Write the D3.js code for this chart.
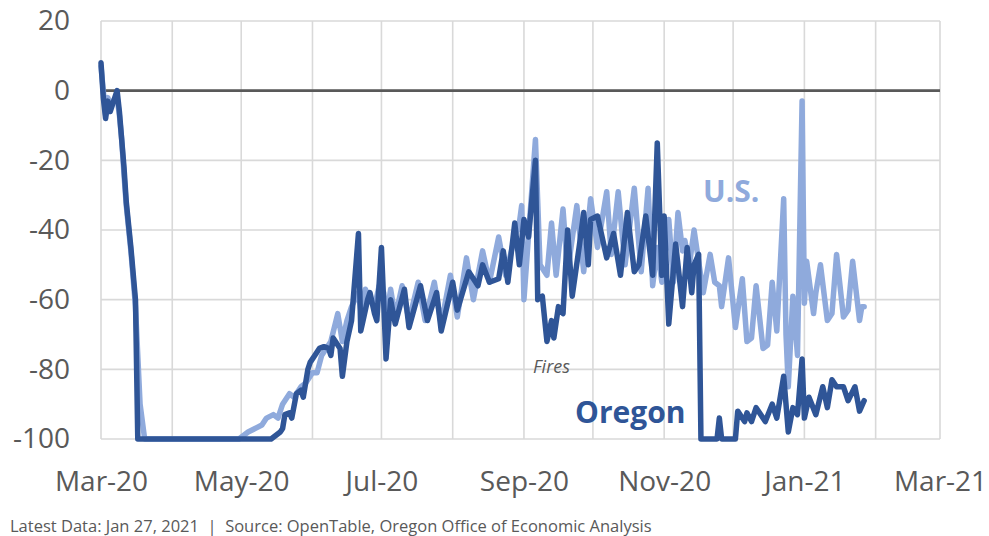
<!DOCTYPE html>
<html>
<head>
<meta charset="utf-8">
<script src="https://cdn.jsdelivr.net/npm/d3@7"></script>
<style>
  html, body { margin: 0; padding: 0; background: #fff; }
  svg { display: block; font-family: "Open Sans", sans-serif; }
</style>
</head>
<body>
<svg id="chart" width="989" height="536"></svg>
<script>
// ---- Data (days since Mar 1, 2020 and % change vs. 2019) ----
const startDate = new Date(2020, 2, 1);
const endDate = new Date(2021, 2, 1);

const oregonDay = [0,1,2,3,4,5,7,8,9,10,11,13,15,16,74,76,78,79,80,82,83,85,87,88,90,91,93,95,97,99,100,101,103,104,105,107,109,112,113,114,116,117,119,120,122,124,126,128,132,134,139,142,146,148,153,155,160,164,166,169,173,175,177,180,182,184,186,189,190,192,194,196,197,199,201,203,205,208,210,212,213,216,220,223,226,229,232,234,237,240,242,244,245,247,250,253,255,257,258,260,261,268,269,270,276,277,280,281,283,285,289,292,294,297,299,301,303,305,306,308,311,314,316,318,320,323,325,328,330,332];
const oregonValue = [8,-2,-8,-3,-6,-4,0,-6,-14,-22,-32,-45,-60,-100,-100,-99,-98,-97,-93,-92.5,-94,-87,-86,-88,-80,-78,-76,-74,-73.5,-74,-76,-71,-73,-74,-82,-72,-66,-41,-69,-66,-60,-58,-64,-66,-45,-77,-60,-67,-57,-68,-56,-66,-58,-69,-55,-63,-52,-56,-50,-55,-54,-46,-55,-38,-50,-37,-42,-20,-60,-59,-72,-66,-71,-62,-64,-40,-59,-45,-35,-50,-37,-36,-48,-41,-53,-35,-52,-50,-36,-53,-15,-53,-36,-67,-44,-62,-45,-58,-50,-47,-100,-100,-94,-100,-100,-92,-95,-92.5,-95,-91,-95,-90,-94,-82,-98,-91,-93,-77,-94,-88,-93,-85,-91,-83,-85,-85,-89,-85,-92,-89];

const usDay = [0,1,2,3,4,5,7,8,9,10,11,13,15,17,19,60,64,67,70,72,75,77,79,82,84,87,89,92,94,96,99,100,103,105,107,109,112,113,115,117,119,121,123,124,126,128,131,134,138,141,145,148,152,155,159,162,166,169,173,176,180,182,183,184,189,191,194,196,198,201,203,207,210,213,216,220,222,225,228,232,235,238,240,242,244,247,249,251,253,254,256,258,260,262,265,267,269,270,273,276,279,281,283,285,288,290,292,294,297,298,299,301,303,305,306,307,310,311,313,316,318,320,323,325,327,330,331,332];
const usValue = [7,0,-7,-2,-5,-3,-2,-7,-14,-24,-33,-46,-62,-90,-100,-100,-98,-97,-96,-94,-93,-94,-90,-87,-88,-85,-84,-81,-81,-76,-73,-72,-64,-72,-66,-62,-58,-63,-57,-60,-62,-56,-58,-66,-57,-65,-56,-66,-55,-66,-55,-67,-53,-65,-48,-60,-46,-55,-42,-53,-42,-38,-33,-60,-14,-50,-53,-38,-53,-34,-52,-33,-52,-31,-45,-29,-47,-29,-50,-28,-52,-28,-56,-45,-55,-37,-55,-35,-46,-43,-50,-40,-49,-58,-47,-55,-56,-62,-48,-68,-54,-72,-71,-56,-74,-73,-55,-69,-31,-70,-85,-59,-76,-3,-61,-49,-64,-58,-50,-66,-64,-47,-65,-63,-49,-66,-62,-62];

const yTicks = [20, 0, -20, -40, -60, -80, -100];
const xTickFormat = "%b-%y";
const footerText = "Latest Data: Jan 27, 2021  |  Source: OpenTable, Oregon Office of Economic Analysis";

// ---- Build ----
const svg = d3.select("#chart");
const plotLeft = 101, plotRight = 940, plotTop = 21, plotBottom = 439;

const x = d3.scaleTime().domain([startDate, endDate]).range([plotLeft, plotRight]);
const y = d3.scaleLinear().domain([-100, 20]).range([plotBottom, plotTop]);

const toSeries = (days, vals) => days.map((d, i) => ({ date: d3.timeDay.offset(startDate, d), value: vals[i] }));
const oregon = toSeries(oregonDay, oregonValue);
const us = toSeries(usDay, usValue);

const gridColor = "#D9D9D9";
const textColor = "#595959";

// Horizontal gridlines
svg.append("g")
  .selectAll("line").data(yTicks).join("line")
  .attr("x1", plotLeft).attr("x2", plotRight)
  .attr("y1", d => y(d)).attr("y2", d => y(d))
  .attr("stroke", gridColor).attr("stroke-width", 1.6);

// Vertical gridlines (monthly)
const months = d3.timeMonth.range(startDate, d3.timeDay.offset(endDate, 1));
svg.append("g")
  .selectAll("line").data(months).join("line")
  .attr("x1", d => x(d)).attr("x2", d => x(d))
  .attr("y1", plotTop).attr("y2", plotBottom)
  .attr("stroke", gridColor).attr("stroke-width", 1.6);

// Zero line
svg.append("line")
  .attr("x1", plotLeft).attr("x2", plotRight)
  .attr("y1", y(0)).attr("y2", y(0))
  .attr("stroke", textColor).attr("stroke-width", 2.6);

// Y axis labels
const yAxis = svg.append("g")
  .attr("transform", `translate(${plotLeft},0)`)
  .call(d3.axisLeft(y).tickValues(yTicks).tickSize(0).tickPadding(31).tickFormat(d3.format("d")));
yAxis.select(".domain").remove();
yAxis.selectAll("text")
  .attr("fill", textColor)
  .style("font-family", "'Open Sans', sans-serif")
  .style("font-size", "28px")
  .text(d => d < 0 ? "-" + Math.abs(d) : d);

// X axis labels (every two months)
const labelMonths = d3.timeMonth.every(2).range(startDate, d3.timeDay.offset(endDate, 1));
const xAxis = svg.append("g")
  .attr("transform", `translate(0,${plotBottom})`)
  .call(d3.axisBottom(x).tickValues(labelMonths).tickSize(0).tickFormat(d3.timeFormat(xTickFormat)));
xAxis.select(".domain").remove();
xAxis.selectAll("text")
  .attr("fill", textColor)
  .attr("y", 52).attr("dy", 0)
  .style("font-family", "'Open Sans', sans-serif")
  .style("font-size", "28px");

// Lines
const line = d3.line().x(d => x(d.date)).y(d => y(d.value));
svg.append("path").datum(us)
  .attr("d", line).attr("fill", "none")
  .attr("stroke", "#8FAADC").attr("stroke-width", 5.5)
  .attr("stroke-linejoin", "round").attr("stroke-linecap", "round");
svg.append("path").datum(oregon)
  .attr("d", line).attr("fill", "none")
  .attr("stroke", "#2F5597").attr("stroke-width", 5.5)
  .attr("stroke-linejoin", "round").attr("stroke-linecap", "round");

// Annotations
svg.append("text").attr("x", 703).attr("y", 202)
  .attr("fill", "#8FAADC").style("font-weight", "bold").style("font-size", "30px").text("U.S.");
svg.append("text").attr("x", 575).attr("y", 423)
  .attr("fill", "#2F5597").style("font-weight", "bold").style("font-size", "30px").text("Oregon");
svg.append("text").attr("x", 533).attr("y", 373)
  .attr("fill", textColor).style("font-style", "italic").style("font-size", "18px").text("Fires");

// Footer
svg.append("text").attr("x", 10).attr("y", 532)
  .attr("fill", textColor).style("font-size", "16.5px")
  .style("white-space", "pre")
  .text(footerText);
</script>
</body>
</html>
